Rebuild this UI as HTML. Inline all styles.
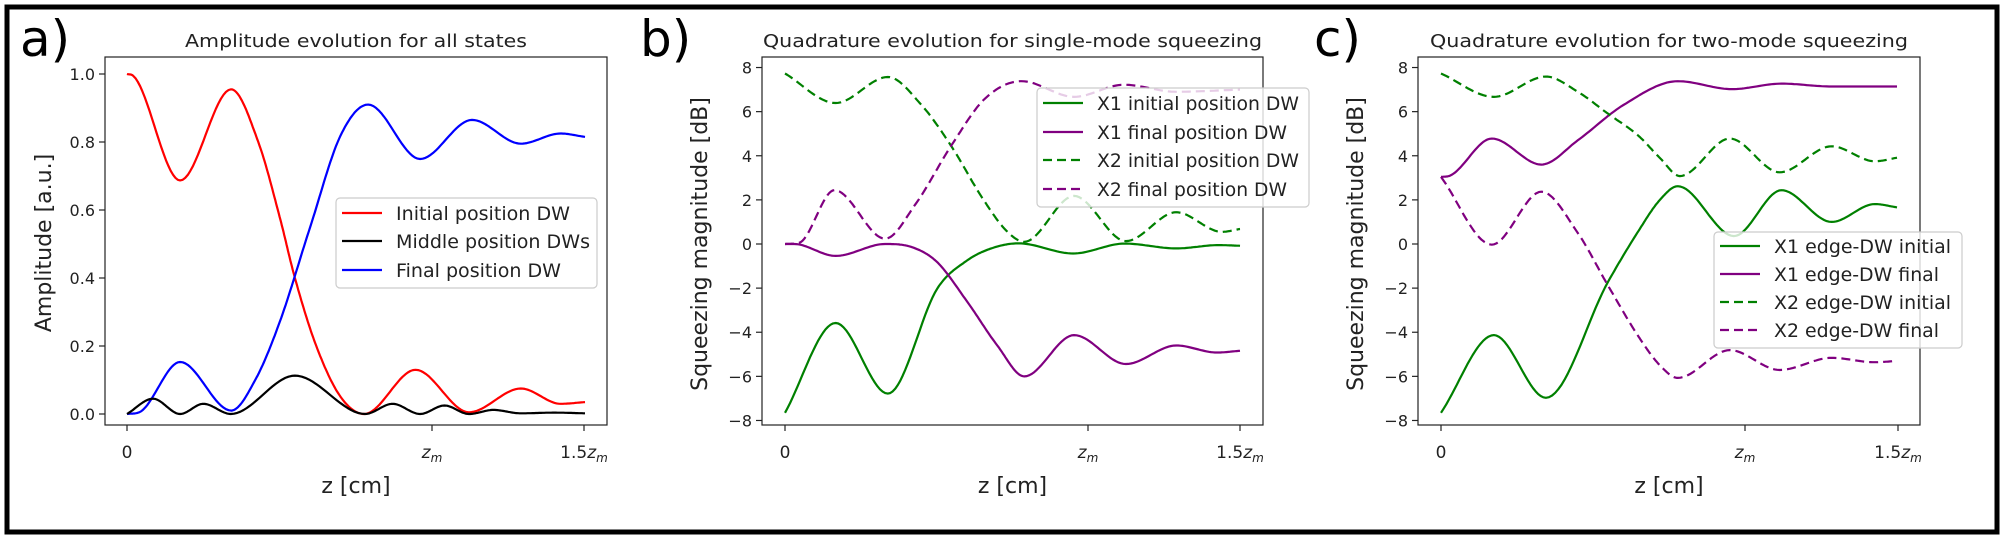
<!DOCTYPE html>
<html><head><meta charset="utf-8"><style>
html,body{margin:0;padding:0;background:#fff;}
svg{display:block;}
text{font-family:"DejaVu Sans","Liberation Sans",sans-serif;fill:#222;}
</style></head><body>
<svg id="s" width="2005" height="540" viewBox="0 0 2005 540" xmlns="http://www.w3.org/2000/svg">
<rect x="0" y="0" width="2005" height="540" fill="#fff"/>
<rect x="7" y="7" width="1990" height="525" fill="none" stroke="#000" stroke-width="5"/>
<g id="g"></g>
</svg>
<script>
var NS="http://www.w3.org/2000/svg",G=document.getElementById('g');
function el(t,a,txt){var e=document.createElementNS(NS,t);for(var k in a)e.setAttribute(k,a[k]);if(txt!=null)e.textContent=txt;G.appendChild(e);return e;}
function mono(pts){
 var n=pts.length,xs=pts.map(p=>p[0]),ys=pts.map(p=>p[1]),d=[],m=[];
 for(var i=0;i<n-1;i++)d.push((ys[i+1]-ys[i])/(xs[i+1]-xs[i]));
 m[0]=d[0];m[n-1]=d[n-2];
 for(i=1;i<n-1;i++){ if(d[i-1]*d[i]<=0)m[i]=0; else m[i]=(d[i-1]+d[i])/2; var mx=3*Math.min(Math.abs(d[i-1]),Math.abs(d[i])); if(Math.abs(m[i])>mx)m[i]=Math.sign(m[i])*mx; }
 var out=[];
 for(i=0;i<n-1;i++){var h=xs[i+1]-xs[i];
  for(var s=0;s<20;s++){var t=s/20,t2=t*t,t3=t2*t;
   var y=(2*t3-3*t2+1)*ys[i]+(t3-2*t2+t)*h*m[i]+(-2*t3+3*t2)*ys[i+1]+(t3-t2)*h*m[i+1];
   out.push([xs[i]+t*h,y]);}}
 out.push([xs[n-1],ys[n-1]]);return out;}
function curve(pts,fx,fy,col,dash){
 var p=mono(pts).map(q=>fx(q[0]).toFixed(1)+","+fy(q[1]).toFixed(1)).join(" ");
 var a={points:p,fill:"none",stroke:col,"stroke-width":2.2,"stroke-linejoin":"round"};
 if(dash)a["stroke-dasharray"]="9,5";
 el("polyline",a);}
function axes(L,R,T,B,x0,xm,x15,title,tl){
 el("rect",{x:L,y:T,width:R-L,height:B-T,fill:"none",stroke:"#222","stroke-width":1.2});
 [x0,xm,x15].forEach(function(a){
  el("line",{x1:a,y1:B,x2:a,y2:B+6,stroke:"#222","stroke-width":1.2});
 });
 el("text",{x:x0,y:458,"font-size":17,"text-anchor":"middle"},"0");
 var t=el("text",{x:xm,y:458,"font-size":17,"text-anchor":"middle"});
 t.innerHTML='<tspan font-style="italic">z</tspan><tspan font-style="italic" font-size="12" dy="4">m</tspan>';
 t=el("text",{x:x15,y:458,"font-size":17,"text-anchor":"middle"});
 t.innerHTML='1.5<tspan font-style="italic">z</tspan><tspan font-style="italic" font-size="12" dy="4">m</tspan>';
 el("text",{x:(L+R)/2,y:493,"font-size":22,"text-anchor":"middle"},"z [cm]");
 el("text",{x:(L+R)/2,y:47,"font-size":18,"text-anchor":"middle",textLength:tl,lengthAdjust:"spacingAndGlyphs"},title);
}
function yt(L,vals,fy,fmt){vals.forEach(function(v){var y=fy(v);
 el("line",{x1:L-6,y1:y,x2:L,y2:y,stroke:"#222","stroke-width":1.2});
 el("text",{x:L-10,y:y+6,"font-size":16,"text-anchor":"end"},fmt(v));});}
function ylab(x,y,s){el("text",{x:x,y:y,"font-size":22,"text-anchor":"middle",transform:"rotate(-90 "+x+" "+y+")"},s);}
function legend(x,y,w,h,rows,ys){
 el("rect",{x:x,y:y,width:w,height:h,rx:4,fill:"#fff","fill-opacity":0.8,stroke:"#ccc","stroke-width":1.2});
 rows.forEach(function(r,i){var a={x1:x+6,y1:ys[i],x2:x+46,y2:ys[i],stroke:r[1],"stroke-width":2.2};
  if(r[2])a["stroke-dasharray"]="9,5";el("line",a);
  el("text",{x:x+60,y:ys[i]+7,"font-size":19,textLength:r[3],lengthAdjust:"spacingAndGlyphs"},r[0]);});}
function lab(x,s){el("text",{x:x,y:56,"font-size":50,style:"fill:#000"},s);}
// Panel a
var fax=t=>127+t*305.3,fay=v=>414-v*340;
axes(105,607,57,425,127,432,584,"Amplitude evolution for all states",342);
yt(105,[0,0.2,0.4,0.6,0.8,1.0],fay,v=>v.toFixed(1));
ylab(51,243,"Amplitude [a.u.]");
curve([[0,1],[0.02,0.995],[0.174,0.687],[0.341,0.955],[0.43,0.8],[0.5,0.58],[0.55,0.4],[0.62,0.2],[0.7,0.05],[0.777,0.0],[0.945,0.13],[1.12,0.005],[1.29,0.075],[1.42,0.03],[1.5,0.035]],fax,fay,"#ff0000");
curve([[0,0],[0.04,0.005],[0.174,0.153],[0.341,0.01],[0.42,0.1],[0.5,0.27],[0.6,0.55],[0.7,0.82],[0.79,0.91],[0.96,0.75],[1.13,0.865],[1.29,0.795],[1.42,0.825],[1.5,0.815]],fax,fay,"#0000ff");
curve([[0,0],[0.085,0.045],[0.174,0],[0.25,0.03],[0.34,0],[0.55,0.113],[0.78,0],[0.87,0.03],[0.96,0],[1.04,0.025],[1.12,0],[1.2,0.012],[1.29,0.002],[1.4,0.004],[1.5,0.002]],fax,fay,"#000000");
legend(336,198,261,90,[["Initial position DW","#ff0000",0,174],["Middle position DWs","#000",0,194],["Final position DW","#0000ff",0,165]],[213,241,270]);
lab(20,"a)");
// Panel b
var fbx=t=>785+t*303.3,fby=v=>244-v*22.06;
axes(762,1263,57,425,785,1088,1240,"Quadrature evolution for single-mode squeezing",499);
yt(762,[8,6,4,2,0,-2,-4,-6,-8],fby,v=>(v<0?"\u2212"+(-v):""+v));
ylab(707,244,"Squeezing magnitude [dB]");
curve([[0,-7.65],[0.167,-3.58],[0.339,-6.78],[0.503,-2.0],[0.6,-0.75],[0.68,-0.2],[0.77,0.03],[0.95,-0.43],[1.12,0.02],[1.29,-0.2],[1.43,-0.05],[1.5,-0.08]],fbx,fby,"#008000");
curve([[0,0],[0.03,0],[0.167,-0.54],[0.33,0],[0.42,-0.15],[0.5,-0.8],[0.6,-2.6],[0.7,-4.6],[0.789,-6.0],[0.953,-4.13],[1.124,-5.44],[1.29,-4.6],[1.424,-4.92],[1.5,-4.84]],fbx,fby,"#800080");
curve([[0,7.73],[0.167,6.39],[0.339,7.57],[0.45,6.3],[0.55,4.4],[0.65,2.1],[0.73,0.6],[0.789,0.1],[0.953,2.18],[1.124,0.13],[1.29,1.44],[1.44,0.55],[1.5,0.68]],fbx,fby,"#008000",1);
curve([[0,0],[0.046,0.05],[0.163,2.44],[0.33,0.24],[0.43,1.8],[0.55,4.5],[0.66,6.6],[0.78,7.38],[0.953,6.67],[1.117,7.22],[1.29,6.9],[1.5,7.0]],fbx,fby,"#800080",1);
legend(1037,88,272,119,[["X1 initial position DW","#008000",0,202],["X1 final position DW","#800080",0,190],["X2 initial position DW","#008000",1,202],["X2 final position DW","#800080",1,190]],[103,132,160,189]);
lab(640,"b)");
// Panel c
var fcx=t=>1441+t*304,fcy=v=>244-v*22.06;
axes(1418,1920,57,425,1441,1745,1898,"Quadrature evolution for two-mode squeezing",478);
yt(1418,[8,6,4,2,0,-2,-4,-6,-8],fcy,v=>(v<0?"\u2212"+(-v):""+v));
ylab(1363,244,"Squeezing magnitude [dB]");
curve([[0,-7.65],[0.174,-4.13],[0.345,-6.97],[0.55,-1.7],[0.65,0.6],[0.72,2.0],[0.779,2.62],[0.964,0.36],[1.12,2.44],[1.285,1.0],[1.427,1.81],[1.5,1.66]],fcx,fcy,"#008000");
curve([[0,3.04],[0.03,3.1],[0.167,4.78],[0.33,3.6],[0.45,4.7],[0.6,6.3],[0.779,7.38],[0.957,7.02],[1.12,7.27],[1.285,7.14],[1.5,7.14]],fcx,fcy,"#800080");
curve([[0,7.73],[0.174,6.67],[0.345,7.59],[0.45,6.9],[0.55,5.9],[0.65,4.9],[0.72,3.9],[0.786,3.08],[0.95,4.78],[1.114,3.25],[1.285,4.43],[1.427,3.75],[1.5,3.91]],fcx,fcy,"#008000",1);
curve([[0,3.04],[0.167,-0.03],[0.33,2.37],[0.45,0.5],[0.55,-1.9],[0.65,-4.2],[0.72,-5.5],[0.779,-6.07],[0.95,-4.81],[1.114,-5.71],[1.285,-5.16],[1.427,-5.36],[1.5,-5.3]],fcx,fcy,"#800080",1);
legend(1714,232,248,116,[["X1 edge-DW initial","#008000",0,177],["X1 edge-DW final","#800080",0,165],["X2 edge-DW initial","#008000",1,177],["X2 edge-DW final","#800080",1,165]],[246,274,302,330]);
lab(1314,"c)");
</script>
</body></html>
